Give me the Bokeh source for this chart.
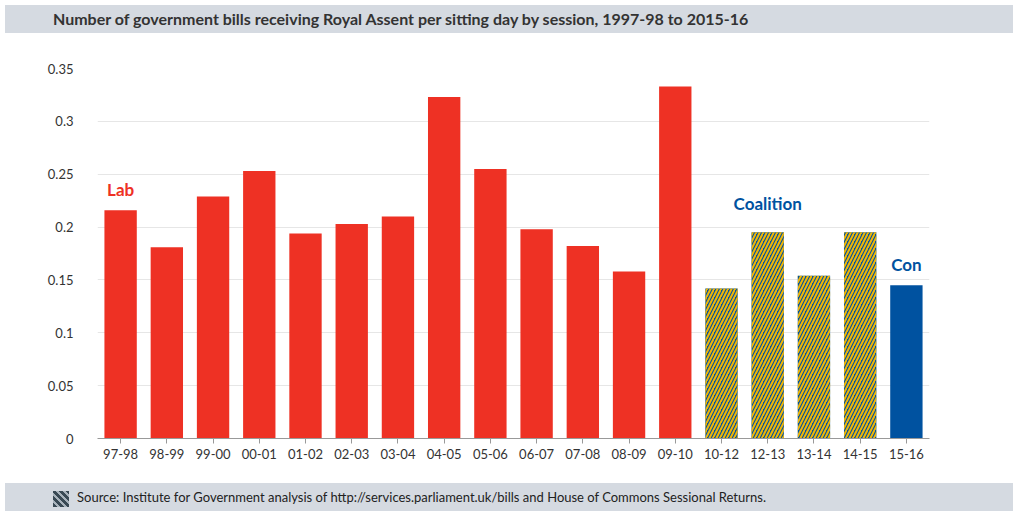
from bokeh.plotting import figure
from bokeh.layouts import column
from bokeh.models import Div, ColumnDataSource, Range1d
from bokeh.core.properties import value
from bokeh.embed import file_html
from bokeh.resources import INLINE

sessions = ["97-98","98-99","99-00","00-01","01-02","02-03","03-04","04-05","05-06",
            "06-07","07-08","08-09","09-10","10-12","12-13","13-14","14-15","15-16"]
values = [0.216,0.181,0.229,0.253,0.194,0.203,0.210,0.323,0.255,0.198,0.182,0.158,0.333,
          0.142,0.195,0.154,0.195,0.145]
govt = ["Lab"]*13 + ["Coalition"]*4 + ["Con"]
RED, BLUE, YEL = "#ee3124", "#0052a0", "#f2b705"

FONT = "Lato"
title = Div(text="Number of government bills receiving Royal Assent per sitting day by session, 1997-98 to 2015-16",
            width=1008, height=28,
            styles={"background-color": "#d5dae1", "color": "#333", "font-family": FONT,
                    "font-size": "16px", "font-weight": "bold", "padding-left": "48px",
                    "line-height": "28px", "box-sizing": "border-box", "width": "1008px"})

p = figure(x_range=sessions, y_range=Range1d(0, 0.35), width=1008, height=440,
           output_backend="svg", toolbar_location=None,
           min_border_left=97, min_border_right=79, min_border_top=30, min_border_bottom=40)
p.outline_line_color = None
p.xgrid.grid_line_color = None
p.ygrid.grid_line_color = "#e6e6e6"

lab = ColumnDataSource(dict(x=sessions[:13], top=values[:13]))
coal = ColumnDataSource(dict(x=sessions[13:17], top=values[13:17]))
con = ColumnDataSource(dict(x=sessions[17:], top=values[17:]))
p.vbar(x="x", top="top", width=0.7, source=lab, fill_color=RED, line_color=None)
p.vbar(x="x", top="top", width=0.7, source=coal, fill_color=BLUE, line_color=None,
       hatch_pattern="/", hatch_color=YEL, hatch_scale=7, hatch_weight=2)
p.vbar(x="x", top="top", width=0.7, source=con, fill_color=BLUE, line_color=None)

p.text(x=[sessions[0]], y=[values[0] + 0.01], text=["Lab"], text_color=RED,
       text_font=value(FONT), text_font_style="bold", text_font_size="17px",
       text_align="center", text_baseline="bottom")
p.text(x=[sessions[14]], y=[0.2125], text=["Coalition"], text_color=BLUE,
       text_font=value(FONT), text_font_style="bold", text_font_size="17px",
       text_align="center", text_baseline="bottom")
p.text(x=[sessions[17]], y=[values[17] + 0.01], text=["Con"], text_color=BLUE,
       text_font=value(FONT), text_font_style="bold", text_font_size="17px",
       text_align="center", text_baseline="bottom")

p.yaxis.ticker = [0, 0.05, 0.1, 0.15, 0.2, 0.25, 0.3, 0.35]
p.yaxis.major_label_overrides = {0: "0", 0.05: "0.05", 0.1: "0.1", 0.15: "0.15", 0.2: "0.2",
                                 0.25: "0.25", 0.3: "0.3", 0.35: "0.35"}
p.yaxis.axis_line_color = None
p.yaxis.major_tick_line_color = None
p.yaxis.minor_tick_line_color = None
p.xaxis.axis_line_color = "#999999"
p.xaxis.major_tick_line_color = "#999999"
p.xaxis.major_tick_in = 0
p.xaxis.major_tick_out = 5
for ax in (p.xaxis, p.yaxis):
    ax.major_label_text_font = FONT
    ax.major_label_text_font_size = "13px"
    ax.major_label_text_color = "#333333"
p.yaxis.major_label_standoff = 18

footer = Div(text='<span style="display:inline-block;width:16px;height:16px;vertical-align:middle;'
                  'margin-right:8px;background:repeating-linear-gradient(45deg,#3a4a55 0 3px,#a9b3bc 3px 5px);"></span>'
                  'Source: Institute for Government analysis of http://services.parliament.uk/bills and House of Commons Sessional Returns.',
             width=1008, height=28,
             styles={"background-color": "#d5dae1", "color": "#222", "font-family": FONT,
                     "font-size": "13px", "padding-left": "48px", "line-height": "28px",
                     "box-sizing": "border-box", "width": "1008px"})

layout = column(title, p, footer, spacing=0)
open("out.html", "w").write(file_html(layout, INLINE))
